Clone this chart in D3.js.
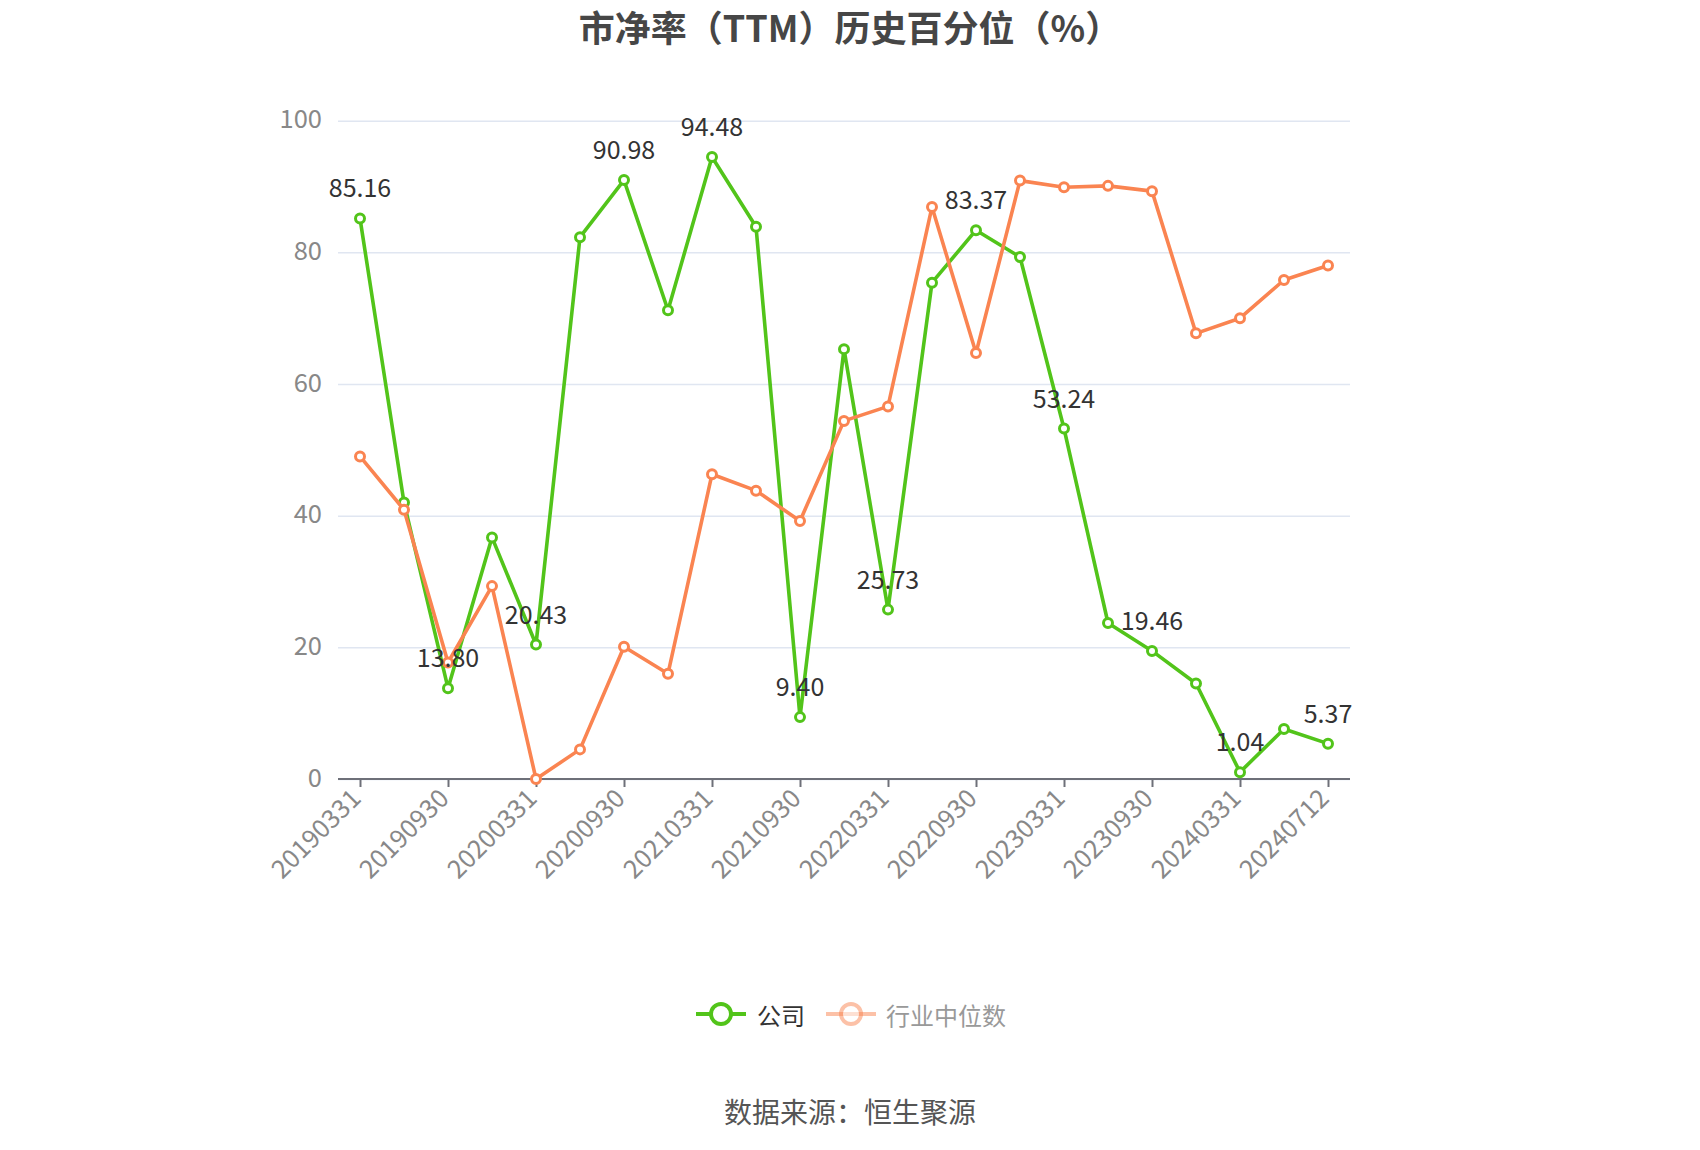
<!DOCTYPE html>
<html>
<head>
<meta charset="utf-8">
<script src="https://cdn.jsdelivr.net/npm/d3@7/dist/d3.min.js"></script>
<style>
  html, body { margin: 0; padding: 0; background: #fff; }
  svg { display: block; font-family: "Noto Sans CJK SC", "Noto Sans", sans-serif; }
</style>
</head>
<body>
<svg id="chart" width="1700" height="1150"></svg>
<script>
const dates = ["20190331","20190630","20190930","20191231","20200331","20200630","20200930","20201231","20210331","20210630","20210930","20211231","20220331","20220630","20220930","20221231","20230331","20230630","20230930","20231231","20240331","20240630","20240712"];
const companyValues = [85.16, 42.0, 13.80, 36.7, 20.43, 82.3, 90.98, 71.2, 94.48, 83.9, 9.40, 65.3, 25.73, 75.4, 83.37, 79.3, 53.24, 23.7, 19.46, 14.5, 1.04, 7.6, 5.37];
const industryValues = [49.0, 40.9, 17.7, 29.3, 0.0, 4.5, 20.1, 16.0, 46.3, 43.8, 39.2, 54.4, 56.6, 86.9, 64.7, 90.9, 89.9, 90.1, 89.3, 67.7, 70.0, 75.8, 78.0];
const yTicks = [0, 20, 40, 60, 80, 100];
const seriesNames = ["公司", "行业中位数"];
const titleText = "市净率（TTM）历史百分位（%）";
const sourceText = "数据来源：恒生聚源";

const green = "#52c41a", orange = "#fa8451";
const svg = d3.select("#chart");

const gLeft = 338, gRight = 1350, gTop = 120.7, gBottom = 779;
const x = d3.scaleBand().domain(dates).range([gLeft, gRight]).padding(0);
const cx = d => x(d) + x.bandwidth() / 2;
const y = d3.scaleLinear().domain([0, 100]).range([gBottom, gTop]);

// title
svg.append("text").attr("x", 850).attr("y", 25.5).attr("text-anchor", "middle").attr("dominant-baseline", "central")
  .attr("font-size", 36).attr("font-weight", "bold").attr("fill", "#464646").text(titleText);

// grid + y axis labels
const yAxis = d3.axisLeft(y).tickValues(yTicks).tickSize(-(gRight - gLeft)).tickPadding(16).tickFormat(d3.format("d"));
const gy = svg.append("g").attr("transform", `translate(${gLeft},0)`).call(yAxis);
gy.select(".domain").remove();
gy.selectAll(".tick line").attr("stroke", "#E0E6F1").attr("stroke-width", 1.5);
gy.selectAll(".tick text").attr("font-size", 25.5).attr("fill", "#888").attr("font-family", "Noto Sans CJK SC")
  .attr("dy", "0.28em");

// x axis
const labelDates = dates.filter((d, i) => i % 2 === 0);
const xAxis = d3.axisBottom(d3.scalePoint().domain(dates).range([cx(dates[0]), cx(dates[dates.length-1])]))
  .tickValues(labelDates).tickSize(8).tickSizeOuter(0);
const gx = svg.append("g").attr("transform", `translate(0,${gBottom})`).call(xAxis);
gx.select(".domain").attr("d", `M${gLeft},0H${gRight}`).attr("stroke", "#6E7079").attr("stroke-width", 2);
gx.selectAll(".tick line").attr("stroke", "#6E7079").attr("stroke-width", 2);
gx.selectAll(".tick text").attr("font-size", 25.5).attr("fill", "#888").attr("font-family", "Noto Sans CJK SC")
  .attr("text-anchor", "end").attr("dy", null).attr("y", 0)
  .attr("transform", "translate(-3,16) rotate(-45)").attr("dominant-baseline", "middle");

// lines
const line = d3.line().x((d, i) => cx(dates[i])).y(d => y(d));
function drawSeries(vals, color) {
  const g = svg.append("g");
  g.append("path").datum(vals).attr("d", line).attr("fill", "none").attr("stroke", color)
    .attr("stroke-width", 3.6).attr("stroke-linejoin", "round");
  g.selectAll("circle").data(vals).join("circle")
    .attr("cx", (d, i) => cx(dates[i])).attr("cy", d => y(d)).attr("r", 4.5)
    .attr("fill", "#fff").attr("stroke", color).attr("stroke-width", 3);
}
drawSeries(companyValues, green);
drawSeries(industryValues, orange);

// data labels on company series (every other point)
svg.append("g").selectAll("text").data(companyValues.map((v, i) => ({v, i})).filter(d => d.i % 2 === 0)).join("text")
  .attr("x", d => cx(dates[d.i])).attr("y", d => y(d.v) - 21).attr("text-anchor", "middle")
  .attr("font-size", 25).attr("fill", "#333").text(d => d.v.toFixed(2));

// legend
const lg = svg.append("g");
const legendItems = [
  {name: seriesNames[0], color: green, x0: 696, tx: 757, op: 1, tc: "#333"},
  {name: seriesNames[1], color: orange, x0: 826, tx: 886, op: 0.5, tc: "#999"}
];
legendItems.forEach(it => {
  const g = lg.append("g");
  g.append("line").attr("x1", it.x0).attr("x2", it.x0 + 50).attr("y1", 1014).attr("y2", 1014)
    .attr("stroke", it.color).attr("stroke-width", 4).attr("opacity", it.op);
  g.append("circle").attr("cx", it.x0 + 25).attr("cy", 1014).attr("r", 10).attr("fill", "#fff")
    .attr("stroke", it.color).attr("stroke-width", 4).attr("opacity", it.op);
  g.append("text").attr("x", it.tx).attr("y", 1014).attr("dominant-baseline", "central")
    .attr("font-size", 24).attr("fill", it.tc).text(it.name);
});

// source
svg.append("text").attr("x", 850).attr("y", 1111).attr("text-anchor", "middle").attr("dominant-baseline", "central")
  .attr("font-size", 28).attr("fill", "#555").text(sourceText);
</script>
</body>
</html>
